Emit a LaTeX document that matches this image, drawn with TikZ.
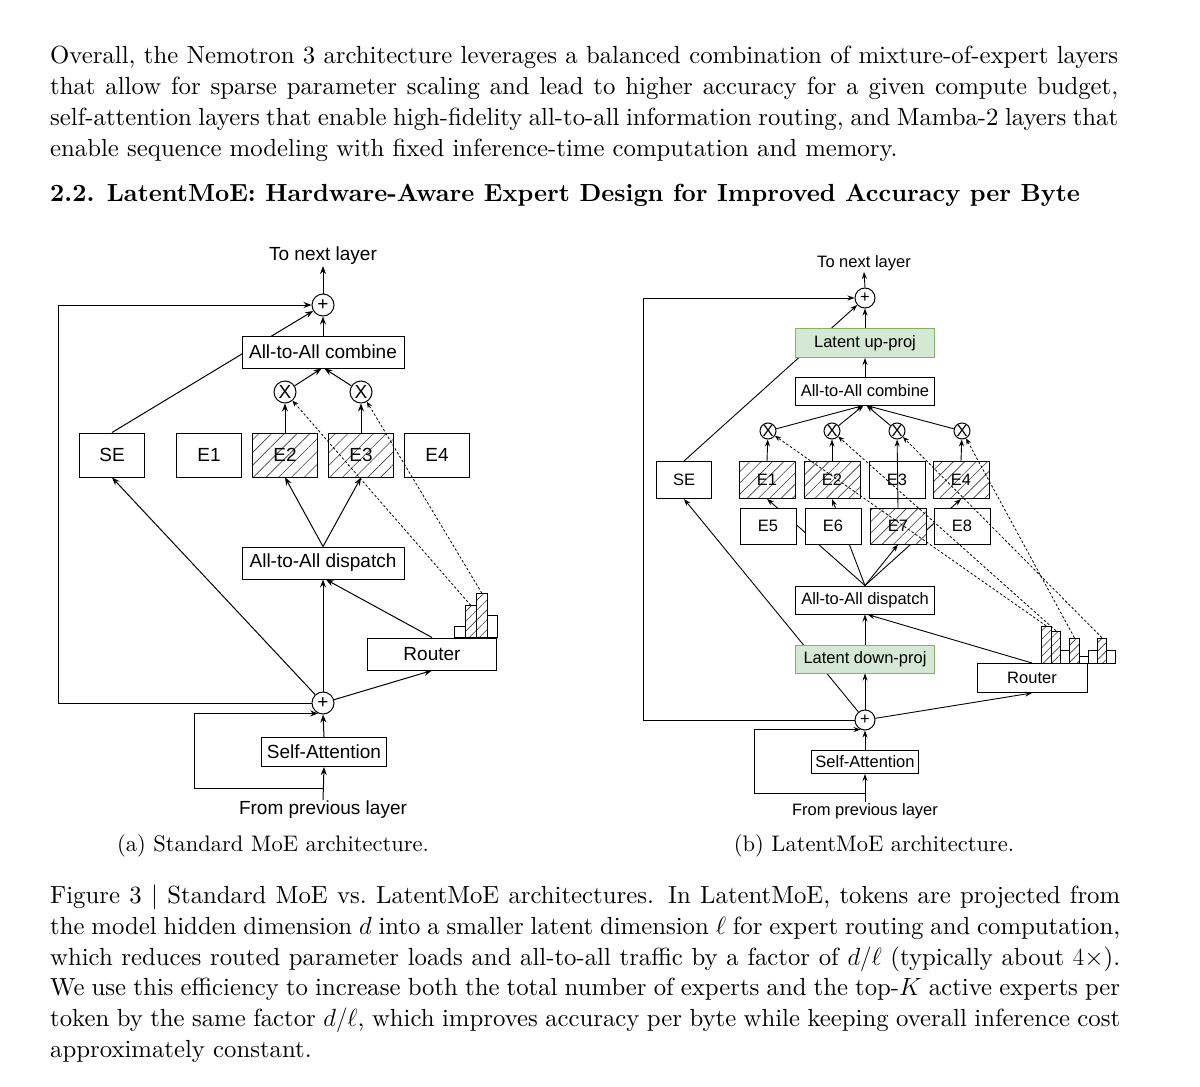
\documentclass[tikz,border=0pt]{standalone}
\usepackage{fontspec}
\setmainfont{lmroman10}[Extension=.otf,UprightFont=*-regular,BoldFont=*-bold,ItalicFont=*-italic,BoldItalicFont=*-bolditalic]
\newfontfamily\diafont{Liberation Sans}
\usetikzlibrary{arrows.meta,positioning,calc,backgrounds,patterns.meta}
\definecolor{latentfill}{HTML}{D5E8D4}
\definecolor{latentdraw}{HTML}{82B366}
\newcommand\bodyfont{\fontsize{24.75}{31}\selectfont}
\newcommand\subfont{\fontsize{22.5}{27}\selectfont}
\newcommand\lfont{\diafont\fontsize{19}{22}\selectfont}
\newcommand\rfont{\diafont\fontsize{16.5}{19}\selectfont}

\begin{document}
\begin{tikzpicture}[x=1pt,y=-1pt,
  every node/.style={inner sep=0pt},
  txt/.style={anchor=base west,font=\bodyfont},
  sub/.style={anchor=base,font=\subfont},
  lbox/.style={draw=black,fill=white,line width=1pt,font=\lfont},
  rbox/.style={draw=black,fill=white,line width=1pt,font=\rfont},
  latent/.style={rbox,draw=latentdraw,fill=latentfill},
  hatch/.style={preaction={fill=white},pattern={Lines[angle=45,distance=#1,line width=0.6pt]},pattern color=black!75},
  hatch/.default=9pt,
  bar/.style={draw=black,fill=white,line width=0.8pt,anchor=south west},
  lcirc/.style={circle,draw=black,fill=white,line width=1pt,minimum size=22pt,font=\lfont},
  rcirc/.style={circle,draw=black,fill=white,line width=1pt,minimum size=#1,font=\rfont},
  lbl/.style={inner sep=1pt},
  arr/.style={-{Stealth[length=8pt,width=6pt]},line width=1pt},
  rarr/.style={-{Stealth[length=7pt,width=5pt]},line width=0.9pt},
  dsh/.style={-{Stealth[length=6pt,width=5pt]},line width=0.8pt,dash pattern=on 2.5pt off 2pt}]
\useasboundingbox (0,0) rectangle (1200,1087);

% text above the figure
\node[txt] (p1) at (50,63) {\makebox[1068pt][s]{Overall, the Nemotron 3 architecture leverages a balanced combination of mixture-of-expert layers}};
\node[txt] (p2) at (50,94) {\makebox[1068pt][s]{that allow for sparse parameter scaling and lead to higher accuracy for a given compute budget,}};
\node[txt] (p3) at (50,125) {\makebox[1068pt][s]{self-attention layers that enable high-fidelity all-to-all information routing, and Mamba-2 layers that}};
\node[txt] (p4) at (50,156) {enable sequence modeling with fixed inference-time computation and memory.};
\node[txt] (sec) at (50,201) {\bfseries 2.2.\enskip LatentMoE: Hardware-Aware Expert Design for Improved Accuracy per Byte};

% (a) standard MoE
\node[lbl,font=\lfont] (lnext) at (323,256) {To next layer};
\node[lcirc] (lpt) at (323,305) {+};
\node[lbox,minimum width=162pt,minimum height=32pt] (lcomb) at (323,352) {All-to-All combine};
\node[lcirc] (lx1) at (285,392) {X};
\node[lcirc] (lx2) at (361,392) {X};
\node[lbox,minimum width=65pt,minimum height=44pt] (lse) at (112,455) {SE};
\node[lbox,minimum width=65pt,minimum height=44pt] (le1) at (209,455) {E1};
\node[lbox,hatch,minimum width=65pt,minimum height=44pt] (le2) at (285,455) {E2};
\node[lbox,hatch,minimum width=65pt,minimum height=44pt] (le3) at (361,455) {E3};
\node[lbox,minimum width=65pt,minimum height=44pt] (le4) at (437,455) {E4};
\node[lbox,minimum width=162pt,minimum height=32pt] (ldisp) at (323,563) {All-to-All dispatch};
\node[lbox,minimum width=129pt,minimum height=32pt] (lrout) at (432,654) {Router};
\node[bar,minimum width=11pt,minimum height=11pt] (lb1) at (454,638) {};
\node[bar,hatch=7pt,minimum width=11pt,minimum height=32pt] (lb2) at (465,638) {};
\node[bar,hatch=7pt,minimum width=11pt,minimum height=44pt] (lb3) at (476,638) {};
\node[bar,minimum width=10pt,minimum height=22pt] (lb4) at (487,638) {};
\node[lcirc] (lpb) at (323,703) {+};
\node[lbox,minimum width=125pt,minimum height=29pt] (lsa) at (324,752) {Self-Attention};
\node[lbl,font=\lfont] (lfrom) at (323,810) {From previous layer};
\coordinate (lfb) at (58,703);
\coordinate (lbr) at (323,788);
\coordinate (lloop) at (194,788);

\begin{scope}[on background layer]
\draw[arr] (lse.north) -- (lpt);
\end{scope}
\draw[arr] (lpt.north) -- (lnext.south);
\draw[arr] (lcomb.north) -- (lpt);
\draw[arr] (lx1) -- (lcomb.265);
\draw[arr] (lx2) -- (lcomb.275);
\draw[arr] (le2.north) -- (lx1);
\draw[arr] (le3.north) -- (lx2);
\foreach \e in {le2,le3} \draw[arr] (ldisp.north) -- (\e.south);
\draw[arr] (lpb.north) -- (ldisp.south);
\draw[arr] (lrout.north) -- (ldisp.280);
\draw[arr] (lpb) -- (lse.south);
\draw[arr] (lpb) -- (lrout.south);
\draw[arr] (lpb.west) -- (lfb) |- (lpt.west);
\draw[arr] (lsa.north) -- (lpb.south);
\draw[arr] (lfrom.north) -- (lsa.south);
\draw[arr] (lbr) -- (lloop) |- (lpb.245);
\draw[dsh] (lb2.north) -- (lx1);
\draw[dsh] (lb3.north) -- (lx2);

% (b) LatentMoE
\node[lbl,font=\rfont] (rnext) at (864,263) {To next layer};
\node[rcirc=20pt] (rpt) at (865,298) {+};
\node[latent,minimum width=139pt,minimum height=29pt] (rup) at (865,343) {Latent up-proj};
\node[rbox,minimum width=139pt,minimum height=28pt] (rcomb) at (865,391) {All-to-All combine};
\foreach \n/\x in {rx1/768,rx2/832,rx3/897,rx4/962}
  \node[rcirc=16pt] (\n) at (\x,431) {X};
\node[rbox,minimum width=55pt,minimum height=37pt] (rse) at (684,480) {SE};
\node[rbox,hatch=8pt,minimum width=56pt,minimum height=37pt] (re1) at (767,480) {E1};
\node[rbox,hatch=8pt,minimum width=56pt,minimum height=37pt] (re2) at (832,480) {E2};
\node[rbox,minimum width=56pt,minimum height=37pt] (re3) at (897,480) {E3};
\node[rbox,hatch=8pt,minimum width=56pt,minimum height=37pt] (re4) at (961,480) {E4};
\node[rbox,minimum width=56pt,minimum height=36pt] (re5) at (768,526) {E5};
\node[rbox,minimum width=56pt,minimum height=36pt] (re6) at (833,526) {E6};
\node[rbox,hatch=8pt,minimum width=56pt,minimum height=36pt] (re7) at (898,526) {E7};
\node[rbox,minimum width=56pt,minimum height=36pt] (re8) at (962,526) {E8};
\node[rbox,minimum width=139pt,minimum height=28pt] (rdisp) at (865,600) {All-to-All dispatch};
\node[latent,minimum width=139pt,minimum height=28pt] (rdown) at (865,659) {Latent down-proj};
\node[rbox,minimum width=110pt,minimum height=29pt] (rrout) at (1032,678) {Router};
\node[bar,hatch=6pt,minimum width=10pt,minimum height=37pt] (rb1) at (1041,663.5) {};
\node[bar,hatch=6pt,minimum width=9pt,minimum height=32pt] (rb2) at (1051,663.5) {};
\node[bar,minimum width=9pt,minimum height=13pt] (rb3) at (1060,663.5) {};
\node[bar,hatch=6pt,minimum width=10pt,minimum height=25pt] (rb4) at (1069,663.5) {};
\node[bar,minimum width=9pt,minimum height=7pt] (rb5) at (1079,663.5) {};
\node[bar,minimum width=9pt,minimum height=13pt] (rb6) at (1088,663.5) {};
\node[bar,hatch=6pt,minimum width=9pt,minimum height=25pt] (rb7) at (1097,663.5) {};
\node[bar,minimum width=9pt,minimum height=13pt] (rb8) at (1106,663.5) {};
\node[rcirc=20pt] (rpb) at (865,720) {+};
\node[rbox,minimum width=107pt,minimum height=23pt] (rsa) at (865,762) {Self-Attention};
\node[lbl,font=\rfont] (rfrom) at (865,811) {From previous layer};
\coordinate (rfb) at (643,720);
\coordinate (rbr) at (865,793);
\coordinate (rloop) at (754,793);

\begin{scope}[on background layer]
\draw[rarr] (rse.north) -- (rpt);
\draw[rarr] (rpb) -- (rse.south);
\foreach \e in {re1,re2,re4} \draw[rarr] (rdisp.north) -- (\e.south);
\end{scope}
\draw[rarr] (rdisp.north) -- (re7.south);
\draw[rarr] (rpt.north) -- (rnext.south);
\draw[rarr] (rup.north) -- (rpt);
\draw[rarr] (rcomb.north) -- (rup.south);
\foreach \x in {rx1,rx2} \draw[rarr] (\x) -- (rcomb.264);
\foreach \x in {rx3,rx4} \draw[rarr] (\x) -- (rcomb.276);
\draw[rarr] (re1.north) -- (rx1);
\draw[rarr] (re2.north) -- (rx2);
\draw[rarr] (re4.north) -- (rx4);
\draw[rarr] (re7.north) -- (rx3);
\draw[rarr] (rdown.north) -- (rdisp.south);
\draw[rarr] (rrout.north) -- (rdisp.280);
\draw[rarr] (rpb.north) -- (rdown.south);
\draw[rarr] (rpb) -- (rrout.south);
\draw[rarr] (rpb.west) -- (rfb) |- (rpt.west);
\draw[rarr] (rsa.north) -- (rpb.south);
\draw[rarr] (rfrom.north) -- (rsa.south);
\draw[rarr] (rbr) -- (rloop) |- (rpb.245);
\draw[dsh] (rb1.north) -- (rx1);
\draw[dsh] (rb2.north) -- (rx2);
\draw[dsh] (rb7.north) -- (rx3);
\draw[dsh] (rb4.north) -- (rx4);

% captions
\node[sub] (capa) at (273,851) {(a) Standard MoE architecture.};
\node[sub] (capb) at (874,851) {(b) LatentMoE architecture.};
\node[txt] (c1) at (50,903) {\makebox[1070pt][s]{Figure 3 $|$ Standard MoE vs.\ LatentMoE architectures. In LatentMoE, tokens are projected from}};
\node[txt] (c2) at (50,934) {\makebox[1070pt][s]{the model hidden dimension $d$ into a smaller latent dimension $\ell$ for expert routing and computation,}};
\node[txt] (c3) at (50,965) {\makebox[1070pt][s]{which reduces routed parameter loads and all-to-all traffic by a factor of $d/\ell$ (typically about $4\times$).}};
\node[txt] (c4) at (50,995) {\makebox[1070pt][s]{We use this efficiency to increase both the total number of experts and the top-$K$ active experts per}};
\node[txt] (c5) at (50,1026) {\makebox[1070pt][s]{token by the same factor $d/\ell$, which improves accuracy per byte while keeping overall inference cost}};
\node[txt] (c6) at (50,1057) {approximately constant.};
\end{tikzpicture}
\end{document}
